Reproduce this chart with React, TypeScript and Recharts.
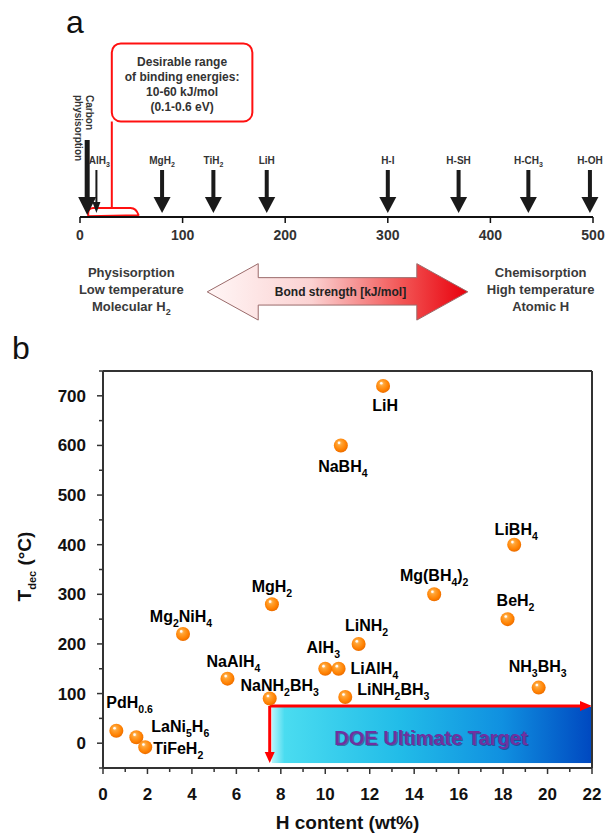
import React from 'react';
import { ScatterChart, Scatter, XAxis, YAxis, ReferenceArea, ReferenceLine, ReferenceDot } from 'recharts';

const FONT = '"Liberation Sans", Arial, Helvetica, sans-serif';

// panel a: H binding energies on the bond-strength scale (kJ/mol)
const bondNames = ['Carbon physisorption', 'AlH_3', 'MgH_2', 'TiH_2', 'LiH', 'H-I', 'H-SH', 'H-CH_3', 'H-OH'];
const bondEnergies = [7, 16, 80, 130, 182, 300, 369, 437, 497];
const bondTicks = [0, 100, 200, 300, 400, 500];
const desirableLines = ['Desirable range', 'of binding energies:', '10-60 kJ/mol', '(0.1-0.6 eV)'];
const physLines = ['Physisorption', 'Low temperature', 'Molecular H_2'];
const chemLines = ['Chemisorption', 'High temperature', 'Atomic H'];

// panel b: decomposition temperature vs hydrogen content
const compounds = ['LiH', 'NaBH_4', 'LiBH_4', 'MgH_2', 'Mg_2NiH_4', 'LiNH_2', 'AlH_3', 'LiAlH_4', 'NaAlH_4', 'NaNH_2BH_3', 'LiNH_2BH_3', 'PdH_{0.6}', 'LaNi_5H_6', 'TiFeH_2', 'Mg(BH_4)_2', 'BeH_2', 'NH_3BH_3'];
const hContent = [12.6, 10.7, 18.5, 7.6, 3.6, 11.5, 10.0, 10.6, 5.6, 7.5, 10.9, 0.6, 1.5, 1.9, 14.9, 18.2, 19.6];
const tDec = [720, 600, 400, 280, 220, 200, 150, 150, 130, 90, 93, 25, 12, -8, 300, 250, 112];
const hTicks = [0, 1, 2, 3, 4, 5, 6, 7, 8, 9, 10, 11, 12, 13, 14, 15, 16, 17, 18, 19, 20, 21, 22];
const tTicks = [-50, 0, 50, 100, 150, 200, 250, 300, 350, 400, 450, 500, 550, 600, 650, 700, 750];

const bondData = bondNames.map((name, i) => ({ name, x: bondEnergies[i], y: 0 }));
const compoundData = compounds.map((name, i) => ({ name, x: hContent[i], y: tDec[i] }));

// label placement for panel b (offset from the sphere centre)
const labelPos: Record<string, { dx: number; dy: number; anchor: 'start' | 'middle' }> = {
  'LiH': { dx: 2, dy: 25, anchor: 'middle' },
  'NaBH_4': { dx: 2, dy: 27, anchor: 'middle' },
  'LiBH_4': { dx: 2, dy: -10, anchor: 'middle' },
  'MgH_2': { dx: 0, dy: -12, anchor: 'middle' },
  'Mg_2NiH_4': { dx: -2, dy: -12, anchor: 'middle' },
  'LiNH_2': { dx: 8, dy: -13, anchor: 'middle' },
  'AlH_3': { dx: -2, dy: -16, anchor: 'middle' },
  'LiAlH_4': { dx: 12, dy: 5, anchor: 'start' },
  'NaAlH_4': { dx: 6, dy: -12, anchor: 'middle' },
  'NaNH_2BH_3': { dx: 10, dy: -8, anchor: 'middle' },
  'LiNH_2BH_3': { dx: 12, dy: -2, anchor: 'start' },
  'PdH_{0.6}': { dx: -10, dy: -23, anchor: 'start' },
  'LaNi_5H_6': { dx: 15, dy: -5, anchor: 'start' },
  'TiFeH_2': { dx: 8, dy: 7, anchor: 'start' },
  'Mg(BH_4)_2': { dx: 0, dy: -13, anchor: 'middle' },
  'BeH_2': { dx: 8, dy: -13, anchor: 'middle' },
  'NH_3BH_3': { dx: -1, dy: -16, anchor: 'middle' },
};

const arrowKind: Record<string, string> = { 'Carbon physisorption': 'big', 'AlH_3': 'small' };

// "NaBH_4" -> [{t:'NaBH'}, {t:'4', sub:true}]
function parseFormula(s: string) {
  const out: { t: string; sub: boolean }[] = [];
  let i = 0;
  let buf = '';
  while (i < s.length) {
    if (s[i] === '_') {
      if (buf) { out.push({ t: buf, sub: false }); buf = ''; }
      i++;
      let sub = '';
      if (s[i] === '{') {
        i++;
        while (i < s.length && s[i] !== '}') sub += s[i++];
        i++;
      } else {
        while (i < s.length && /[0-9]/.test(s[i])) sub += s[i++];
      }
      out.push({ t: sub, sub: true });
    } else {
      buf += s[i++];
    }
  }
  if (buf) out.push({ t: buf, sub: false });
  return out;
}

function Formula({ x, y, text, size, subSize, shift, anchor = 'middle', fill = '#000', weight = 'bold' }: any) {
  const parts = parseFormula(text);
  let level = 0;
  return (
    <text x={x} y={y} textAnchor={anchor} fontFamily={FONT} fontWeight={weight} fontSize={size} fill={fill}>
      {parts.map((p, i) => {
        const target = p.sub ? shift : 0;
        const dy = target - level;
        level = target;
        return (
          <tspan key={i} dy={dy} fontSize={p.sub ? subSize : size}>{p.t}</tspan>
        );
      })}
    </text>
  );
}

function BondArrow(props: any) {
  const { cx, cy, payload } = props;
  const kind = arrowKind[payload.name];
  const c = '#1a1a1a';
  if (kind === 'big') {
    const [l1, l2] = payload.name.split(' ');
    const t = { fontFamily: FONT, fontWeight: 'bold', fontSize: 10, fill: '#333' } as any;
    return (
      <g>
        <rect x={cx - 2.5} y={cy - 77} width={5} height={58} fill={c} />
        <polygon points={`${cx - 9},${cy - 20} ${cx + 9},${cy - 20} ${cx},${cy - 2}`} fill={c} />
        <text transform={`translate(${cx - 1},${cy - 122}) rotate(90)`} {...t}>{l1}</text>
        <text transform={`translate(${cx - 12},${cy - 122}) rotate(90)`} {...t}>{l2}</text>
      </g>
    );
  }
  if (kind === 'small') {
    return (
      <g>
        <rect x={cx - 1} y={cy - 47} width={2} height={33} fill={c} />
        <polygon points={`${cx - 4},${cy - 15} ${cx + 4},${cy - 15} ${cx},${cy - 4}`} fill={c} />
        <Formula x={cx + 3} y={cy - 53} text={payload.name} size={10} subSize={7} shift={3} fill="#333" />
      </g>
    );
  }
  return (
    <g>
      <rect x={cx - 2} y={cy - 47} width={4} height={28} fill={c} />
      <polygon points={`${cx - 8.5},${cy - 20} ${cx + 8.5},${cy - 20} ${cx},${cy - 4}`} fill={c} />
      <Formula x={cx} y={cy - 53} text={payload.name} size={10} subSize={7} shift={3} fill="#333" />
    </g>
  );
}

function CalloutBox(props: any) {
  const { x, y, width } = props;
  return (
    <g>
      <rect x={x} y={y} width={width} height={props.height} rx={9} ry={9} fill="#fff" stroke="#ff1010" strokeWidth={2} />
      {desirableLines.map((l, i) => (
        <text key={i} x={x + width / 2} y={y + 23 + i * 15} textAnchor="middle" fontFamily={FONT} fontWeight="bold" fontSize={12} fill="#333">{l}</text>
      ))}
    </g>
  );
}

function Brace(props: any) {
  const { x, y, width, height } = props;
  const r = 5;
  const d = `M${x},${y + height} L${x},${y + r} Q${x},${y} ${x + r},${y} L${x + width - 8},${y} Q${x + width - 2},${y} ${x + width},${y + height - 1} Z`;
  return <path d={d} fill="none" stroke="#ff1010" strokeWidth={2} strokeLinejoin="round" />;
}

function BondStrengthArrow(props: any) {
  const { x, y, width: w, height: h } = props;
  const hl = 51;
  const s1 = 14;
  const s2 = h - 15;
  const pts = [
    [x, y + h / 2], [x + hl, y], [x + hl, y + s1], [x + w - hl, y + s1], [x + w - hl, y],
    [x + w, y + h / 2], [x + w - hl, y + h], [x + w - hl, y + s2], [x + hl, y + s2], [x + hl, y + h],
  ].map((p) => p.join(',')).join(' ');
  return (
    <g>
      <polygon points={pts} fill="url(#bondGrad)" stroke="#9a6a6a" strokeWidth={1} />
      <text x={x + w / 2 + 3} y={y + h / 2 + 4.5} textAnchor="middle" fontFamily={FONT} fontWeight="bold" fontSize={12} fill="#222">Bond strength [kJ/mol]</text>
    </g>
  );
}

function TextBlock(lines: string[]) {
  return (props: any) => (
    <g>
      {lines.map((l, i) => (
        <Formula key={i} x={props.cx} y={props.cy + i * 17} text={l} size={13} subSize={9} shift={4} fill="#3a3a3a" />
      ))}
    </g>
  );
}

function Sphere(props: any) {
  const { cx, cy, payload } = props;
  const lp = labelPos[payload.name];
  return (
    <g>
      <circle cx={cx} cy={cy} r={7} fill="url(#sphereGrad)" />
      <circle cx={cx - 1.8} cy={cy - 2.6} r={1.3} fill="#fff" opacity={0.95} />
      <Formula x={cx + lp.dx} y={cy + lp.dy} text={payload.name} size={16} subSize={10.5} shift={5} anchor={lp.anchor} />
    </g>
  );
}

function DoeBox(props: any) {
  const { x, y, width, height } = props;
  const right = x + width;
  const bottom = y + height;
  const t = { textAnchor: 'middle', fontFamily: FONT, fontWeight: 'bold', fontSize: 20 } as any;
  return (
    <g>
      <rect x={x + 2} y={y + 1} width={width - 2} height={height - 1} fill="url(#doeGrad)" />
      <line x1={x} y1={y} x2={right - 9} y2={y} stroke="#ff0000" strokeWidth={3} />
      <polygon points={`${right},${y} ${right - 12},${y - 5} ${right - 12},${y + 5}`} fill="#ff0000" />
      <line x1={x} y1={y} x2={x} y2={bottom - 8} stroke="#ff0000" strokeWidth={3} />
      <polygon points={`${x},${bottom} ${x - 5},${bottom - 11} ${x + 5},${bottom - 11}`} fill="#ff0000" />
      <text x={x + width / 2 + 1.5} y={y + height / 2 + 11.5} fill="#2a1050" opacity={0.45} {...t}>DOE Ultimate Target</text>
      <text x={x + width / 2} y={y + height / 2 + 10} fill="#7030a0" {...t}>DOE Ultimate Target</text>
    </g>
  );
}

function XTick(props: any) {
  const { x, y, payload } = props;
  const v = payload.value;
  const major = v % 2 === 0;
  return (
    <g>
      <line x1={x} x2={x} y1={y} y2={y + (major ? 6 : 4)} stroke="#333" strokeWidth={1.5} />
      {major && (
        <text x={x} y={y + 32} textAnchor="middle" fontFamily={FONT} fontWeight="bold" fontSize={17} fill="#111">{v}</text>
      )}
    </g>
  );
}

function YTick(props: any) {
  const { x, y, payload } = props;
  const v = payload.value;
  const major = v % 100 === 0 && v >= 0 && v <= 700;
  return (
    <g>
      <line x1={x - (major ? 6 : 4)} x2={x} y1={y} y2={y} stroke="#333" strokeWidth={1.5} />
      {major && (
        <text x={x - 17} y={y + 6} textAnchor="end" fontFamily={FONT} fontWeight="bold" fontSize={17} fill="#111">{v}</text>
      )}
    </g>
  );
}

function YLabel(props: any) {
  const vb = props.viewBox || { x: 0, y: 41, width: 103, height: 397 };
  const x = vb.x + 31;
  const y = vb.y + vb.height / 2 - 3;
  return (
    <text transform={`translate(${x},${y}) rotate(-90)`} textAnchor="middle" fontFamily={FONT} fontWeight="bold" fontSize={19} fill="#111">
      <tspan>T</tspan>
      <tspan dy={5} fontSize={11}>dec</tspan>
      <tspan dy={-5}> (°C)</tspan>
    </text>
  );
}

function XLabel(props: any) {
  const vb = props.viewBox || { x: 103, y: 438, width: 489, height: 67 };
  return (
    <text x={vb.x + vb.width / 2} y={vb.y + 61} textAnchor="middle" fontFamily={FONT} fontWeight="bold" fontSize={19} fill="#111">H content (wt%)</text>
  );
}

export default function App() {
  return (
    <div style={{ position: 'relative', width: 606, height: 835, background: '#fff', overflow: 'hidden' }}>
      <style>{'body{margin:0}'}</style>
      <svg width={0} height={0} style={{ position: 'absolute' }}>
        <defs>
          <radialGradient id="sphereGrad" cx="0.45" cy="0.42" r="0.6" fx="0.38" fy="0.3">
            <stop offset="0" stopColor="#ffd498" />
            <stop offset="0.3" stopColor="#ffa232" />
            <stop offset="0.75" stopColor="#ff8000" />
            <stop offset="1" stopColor="#e86a00" />
          </radialGradient>
          <linearGradient id="doeGrad" x1="0" y1="0" x2="1" y2="0">
            <stop offset="0" stopColor="#b8f4fa" />
            <stop offset="0.04" stopColor="#4adcf0" />
            <stop offset="0.4" stopColor="#22bce8" />
            <stop offset="0.72" stopColor="#1090e0" />
            <stop offset="1" stopColor="#0048c0" />
          </linearGradient>
          <linearGradient id="bondGrad" x1="0" y1="0" x2="1" y2="0">
            <stop offset="0" stopColor="#fff6f6" />
            <stop offset="0.4" stopColor="#fbd2d2" />
            <stop offset="0.75" stopColor="#f25454" />
            <stop offset="1" stopColor="#e8000c" />
          </linearGradient>
        </defs>
      </svg>

      <div style={{ position: 'absolute', left: 0, top: 0 }}>
        <ScatterChart width={606} height={330} margin={{ top: 0, right: 13, bottom: 83, left: 80 }}>
          <XAxis
            type="number"
            dataKey="x"
            domain={[0, 500]}
            ticks={bondTicks}
            interval={0}
            height={30}
            axisLine={{ stroke: '#111', strokeWidth: 2 }}
            tickLine={{ stroke: '#111', strokeWidth: 1.5 }}
            tickSize={6}
            tickMargin={7}
            tick={{ fontSize: 14, fontWeight: 'bold', fill: '#333', fontFamily: FONT }}
          />
          <YAxis type="number" dataKey="y" domain={[0, 100]} hide />
          <ReferenceLine segment={[{ x: 31, y: 44 }, { x: 31, y: 4.5 }]} stroke="#ff1010" strokeWidth={2} />
          <ReferenceArea x1={8} x2={57} y1={0.4} y2={4.2} shape={<Brace />} />
          <ReferenceArea x1={31} x2={168} y1={44} y2={80} shape={<CalloutBox />} />
          <ReferenceArea x1={124} x2={378} y1={-47.5} y2={-21.5} ifOverflow="visible" shape={<BondStrengthArrow />} />
          <ReferenceDot x={50} y={-27.6} ifOverflow="visible" shape={TextBlock(physLines)} />
          <ReferenceDot x={449} y={-27.6} ifOverflow="visible" shape={TextBlock(chemLines)} />
          <Scatter data={bondData} shape={<BondArrow />} isAnimationActive={false} />
        </ScatterChart>
      </div>

      <div style={{ position: 'absolute', left: 0, top: 330 }}>
        <ScatterChart width={606} height={505} margin={{ top: 41, right: 14, bottom: 0, left: 0 }}>
          <XAxis
            type="number"
            dataKey="x"
            domain={[0, 22]}
            ticks={hTicks}
            interval={0}
            height={67}
            tickSize={0}
            tickMargin={0}
            tickLine={false}
            tick={<XTick />}
            axisLine={{ stroke: '#333', strokeWidth: 2 }}
            label={<XLabel />}
          />
          <YAxis
            type="number"
            dataKey="y"
            domain={[-50, 750]}
            ticks={tTicks}
            interval={0}
            width={103}
            tickSize={0}
            tickMargin={0}
            tickLine={false}
            tick={<YTick />}
            axisLine={{ stroke: '#333', strokeWidth: 2 }}
            label={<YLabel />}
          />
          <ReferenceLine y={750} stroke="#333" strokeWidth={2} />
          <ReferenceLine x={22} stroke="#333" strokeWidth={2} />
          <ReferenceArea x1={7.5} x2={22} y1={-40} y2={75} shape={<DoeBox />} />
          <Scatter data={compoundData} shape={<Sphere />} isAnimationActive={false} />
        </ScatterChart>
      </div>

      <svg width={606} height={835} style={{ position: 'absolute', left: 0, top: 0, pointerEvents: 'none' }}>
        <text x={66} y={33} fontFamily={FONT} fontSize={32} fill="#111">a</text>
        <text x={12} y={359} fontFamily={FONT} fontSize={32} fill="#111">b</text>
      </svg>
    </div>
  );
}
